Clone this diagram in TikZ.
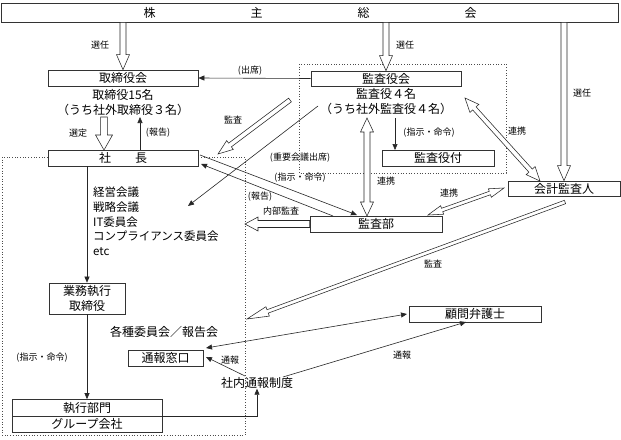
\documentclass[tikz,border=0pt]{standalone}
\usepackage{fontspec}
\setmainfont{Noto Sans CJK JP}
\usetikzlibrary{calc,arrows.meta}
\tikzset{
  box/.style={draw=black!80, fill=white, line width=0.7pt, inner sep=0pt,
    font=\fontsize{12}{14}\selectfont},
  lbl/.style={font=\fontsize{9}{10}\selectfont, inner sep=1pt},
  txt/.style={font=\fontsize{12}{14}\selectfont, inner sep=0pt},
  sarrow/.style={-{Triangle[length=6pt,width=5pt]}, line width=0.6pt, draw=black!85},
  dots/.style={dotted, line width=0.7pt, draw=black!70},
  harrow/.style n args={3}{draw=black!85, fill=white, line width=0.55pt, line join=miter,
    to path={
      ($(\tikztostart)!#1!90:(\tikztotarget)$) --
      ($(\tikztotarget)!#3!(\tikztostart)!#1!90:(\tikztotarget)$) --
      ($(\tikztotarget)!#3!(\tikztostart)!#2!90:(\tikztotarget)$) --
      (\tikztotarget) --
      ($(\tikztotarget)!#3!(\tikztostart)!#2!-90:(\tikztotarget)$) --
      ($(\tikztotarget)!#3!(\tikztostart)!#1!-90:(\tikztotarget)$) --
      ($(\tikztostart)!#1!-90:(\tikztotarget)$) -- cycle}},
  hdarrow/.style n args={3}{draw=black!85, fill=white, line width=0.55pt, line join=miter,
    to path={
      (\tikztostart) --
      ($(\tikztostart)!#3!(\tikztotarget)!#2!90:(\tikztotarget)$) --
      ($(\tikztostart)!#3!(\tikztotarget)!#1!90:(\tikztotarget)$) --
      ($(\tikztotarget)!#3!(\tikztostart)!#1!90:(\tikztotarget)$) --
      ($(\tikztotarget)!#3!(\tikztostart)!#2!90:(\tikztotarget)$) --
      (\tikztotarget) --
      ($(\tikztotarget)!#3!(\tikztostart)!#2!-90:(\tikztotarget)$) --
      ($(\tikztotarget)!#3!(\tikztostart)!#1!-90:(\tikztotarget)$) --
      ($(\tikztostart)!#3!(\tikztotarget)!#1!-90:(\tikztotarget)$) --
      ($(\tikztostart)!#3!(\tikztotarget)!#2!-90:(\tikztotarget)$) -- cycle}}
}
\begin{document}
\begin{tikzpicture}[x=1pt,y=-1pt]
\useasboundingbox (0,0) rectangle (621,439);
\fill[white] (0,0) rectangle (621,439);

% dotted regions
\draw[dots] (2,157) rectangle (245,435);
\draw[dots] (299,64) rectangle (506,173);

% boxes
\node[box, minimum width=617pt, minimum height=19pt] (soukai) at (310,12.5)
  {株\hspace{95pt}主\hspace{95pt}総\hspace{95pt}会};
\node[box, minimum width=150pt, minimum height=16pt] (tori) at (123,78) {取締役会};
\node[box, minimum width=150pt, minimum height=16pt] (shacho) at (123,158) {社　　長};
\node[box, minimum width=150pt, minimum height=15pt] (kansayaku) at (386,78.5) {監査役会};
\node[box, minimum width=112pt, minimum height=16pt] (fuzoku) at (438,158) {監査役付};
\node[box, minimum width=112pt, minimum height=15pt] (kaikei) at (564,188.5) {会計監査人};
\node[box, minimum width=132pt, minimum height=16pt] (kansabu) at (376,224) {監査部};
\node[box, minimum width=76pt, minimum height=31pt, align=center,
  font=\fontsize{12}{15}\selectfont] (gyomu) at (87,298.5) {業務執行\\取締役};
\node[box, minimum width=150pt, minimum height=16.5pt] (shikko) at (87,407.75) {執行部門};
\node[box, minimum width=150pt, minimum height=16.5pt] (group) at (87,424.25) {グループ会社};
\node[box, minimum width=75pt, minimum height=16pt] (madoguchi) at (165.5,358) {通報窓口};
\node[box, minimum width=132pt, minimum height=16pt] (bengoshi) at (475,314) {顧問弁護士};

% texts
\node[txt] (t1) at (123,95) {取締役15名};
\node[txt] (t2) at (123,110) {（うち社外取締役３名）};
\node[txt] (k1) at (386,94) {監査役４名};
\node[txt] (k2) at (386,109) {（うち社外監査役４名）};
\node[txt, anchor=north west, align=left, font=\fontsize{11.5}{14.7}\selectfont]
  (kaigi) at (93,187) {経営会議\\戦略会議\\IT委員会\\コンプライアンス委員会\\etc};
\node[txt] (iinkai) at (164,332) {各種委員会／報告会};
\node[txt] (seido) at (257,383) {社内通報制度};

% coordinates
\coordinate (a1) at (tori.north |- soukai.south);
\coordinate (a2) at (kansayaku.north |- soukai.south);
\coordinate (a3) at (kaikei.north |- soukai.south);
\coordinate (se1) at (104,117);
\coordinate (se2) at (104,150);
\coordinate (ho1) at (140,150);
\coordinate (ho2) at (140,117);
\coordinate (kA) at (290,100);
\coordinate (kB) at (218,154);
\coordinate (lA) at (318,106);
\coordinate (lB) at (188,206);
\coordinate (sA) at (200,155);
\coordinate (sB) at (357,215);
\coordinate (hA) at (333,216);
\coordinate (hB) at (201,164);
\coordinate (rA) at (367,118);
\coordinate (rB) at (367,216);
\coordinate (fA) at (395,118);
\coordinate (fB) at (395,150);
\coordinate (dA) at (465,98);
\coordinate (dB) at (540,181);
\coordinate (eA) at (428,215);
\coordinate (eB) at (504,188);
\coordinate (nB) at (245,224);
\coordinate (mA) at (565,202);
\coordinate (mB) at (247,319);
\coordinate (tA) at (206,348);
\coordinate (tB) at (407,314);
\coordinate (uA) at (245,376);
\coordinate (uB) at (206,357);
\coordinate (vA) at (283,377);
\coordinate (vB) at (466,322);
\coordinate (g1) at (gyomu.north |- shacho.south);

% hollow arrows
\draw[harrow={3pt}{6.5pt}{15pt}] (a1) to (tori.north);
\draw[harrow={3pt}{6.5pt}{15pt}] (a2) to (kansayaku.north);
\draw[harrow={3pt}{6.5pt}{15pt}] (a3) to (kaikei.north);
\draw[harrow={3.3pt}{8.5pt}{15pt}] (se1) to (se2);
\draw[harrow={2.3pt}{5.5pt}{15pt}] (kA) to (kB);
\draw[hdarrow={3pt}{6.5pt}{14pt}] (rA) to (rB);
\draw[hdarrow={2.3pt}{6pt}{14pt}] (dA) to (dB);
\draw[hdarrow={1.8pt}{4.5pt}{15pt}] (eA) to (eB);
\draw[harrow={3.5pt}{7pt}{13pt}] (kansabu.west) to (nB);
\draw[harrow={1.8pt}{5pt}{22pt}] (mA) to (mB);

% solid arrows
\draw[sarrow] (kansayaku.west) -- (tori.east);
\draw[sarrow] (ho1) -- (ho2);
\draw[sarrow] (lA) -- (lB);
\draw[sarrow] (sA) -- (sB);
\draw[sarrow] (hA) -- (hB);
\draw[sarrow] (fA) -- (fB);
\draw[sarrow] (g1) -- (gyomu.north);
\draw[sarrow] (gyomu.south) -- (shikko.north);
\draw[sarrow, {Triangle[length=6pt,width=5pt]}-{Triangle[length=6pt,width=5pt]}] (tA) -- (tB);
\draw[sarrow] (uA) -- (uB);
\draw[sarrow] (vA) -- (vB);
\draw[sarrow] (shikko.south east) -| (seido.south);

% labels
\node[lbl] at (100,45) {選任};
\node[lbl] at (405,45) {選任};
\node[lbl] at (582,93) {選任};
\node[lbl] at (250,71) {(出席)};
\node[lbl] at (78,133) {選定};
\node[lbl] at (158,133) {(報告)};
\node[lbl] at (233,120) {監査};
\node[lbl] at (300,158) {(重要会議出席)};
\node[lbl] at (300,178) {(指示・命令)};
\node[lbl] at (260,197) {(報告)};
\node[lbl] at (281,211) {内部監査};
\node[lbl] at (386,181) {連携};
\node[lbl] at (429,133) {(指示・命令)};
\node[lbl] at (517,131) {連携};
\node[lbl] at (449,193) {連携};
\node[lbl] at (433,264) {監査};
\node[lbl] at (42,358) {(指示・命令)};
\node[lbl] at (230,360) {通報};
\node[lbl] at (402,355) {通報};
\end{tikzpicture}
\end{document}
